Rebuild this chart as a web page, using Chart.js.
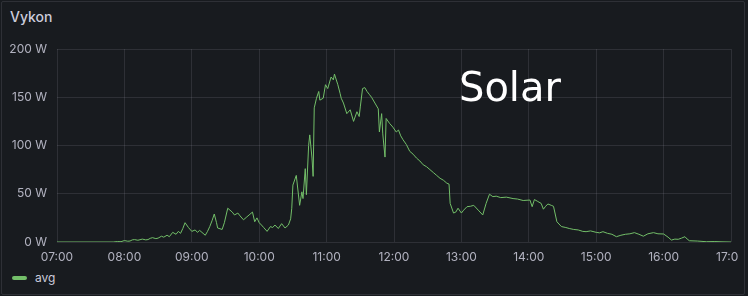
<!DOCTYPE html>
<html lang="en">
<head>
    <meta charset="UTF-8">
    <title>Vykon</title>
    <script src="https://cdn.jsdelivr.net/npm/chart.js@4.4.1/dist/chart.umd.min.js"></script>
    <style>
        html, body { margin: 0; padding: 0; background: #181b1f; }
        body { width: 748px; height: 296px; position: relative; overflow: hidden; font-family: Inter, "Noto Sans", sans-serif; }
        #panel { position: absolute; left: 1px; top: 1px; width: 742px; height: 292px; border: 1px solid rgba(204,204,220,0.12); border-radius: 2px; }
        #title { position: absolute; left: 10px; top: 8px; font-size: 14px; font-weight: 500; color: #ccccdc; }
        #wrap { position: absolute; left: 0; top: 0; width: 739px; height: 270px; overflow: hidden; }
        #solar { position: absolute; left: 459px; top: 64px; font-family: "DejaVu Sans", sans-serif; font-size: 40px; color: #ffffff; }
        #legend { position: absolute; left: 12px; top: 270px; font-size: 12px; color: #ccccdc; display: flex; align-items: center; }
        #legend span.swatch { display: inline-block; width: 15px; height: 4px; border-radius: 2px; background: #73bf69; margin-right: 8px; }
    </style>
</head>
<body>
    <div id="panel"></div>
    <div id="title">Vykon</div>
    <div id="wrap"><canvas id="myChart" width="739" height="270"></canvas></div>
    <div id="solar">Solar</div>
    <div id="legend"><span class="swatch"></span>avg</div>

    <script>
        // power readings (avg)
        const times = [
            '07:00','07:50','07:54','07:57','08:00','08:03','08:05','08:07','08:09','08:12',
            '08:16','08:19','08:21','08:23','08:25','08:28','08:30','08:33','08:35','08:38',
            '08:40','08:43','08:46','08:48','08:50','08:52','08:54','08:57','09:00','09:03',
            '09:05','09:07','09:10','09:12','09:14','09:16','09:18','09:20','09:22','09:23',
            '09:27','09:29','09:32','09:34','09:36','09:38','09:41','09:43','09:46','09:49',
            '09:51','09:54','09:56','09:58','10:00','10:02','10:04','10:07','10:10','10:12',
            '10:14','10:17','10:20','10:23','10:26','10:28','10:29','10:30','10:33','10:36',
            '10:38','10:39','10:41','10:42','10:44','10:45','10:47','10:48','10:49','10:51',
            '10:53','10:54','10:57','10:59','11:01','11:04','11:06','11:07','11:10','11:12',
            '11:13','11:15','11:18','11:21','11:24','11:27','11:29','11:30','11:32','11:34',
            '11:36','11:38','11:40','11:43','11:46','11:47','11:49','11:50','11:52','11:53',
            '11:56','11:59','12:02','12:04','12:06','12:08','12:11','12:14','12:17','12:20',
            '12:23','12:26','12:29','12:32','12:35','12:38','12:41','12:44','12:47','12:49',
            '12:50','12:53','12:55','12:57','13:00','13:02','13:05','13:08','13:11','13:15',
            '13:19','13:22','13:25','13:28','13:31','13:35','13:40','13:46','13:50','13:55',
            '14:01','14:03','14:05','14:08','14:11','14:13','14:15','14:17','14:20','14:22',
            '14:25','14:29','14:33','14:36','14:40','14:44','14:48','14:51','14:55','15:00',
            '15:03','15:06','15:10','15:14','15:18','15:22','15:26','15:30','15:34','15:38',
            '15:42','15:46','15:51','15:55','16:00','16:04','16:07','16:10','16:13','16:16',
            '16:19','16:21','16:23','16:30','16:38','16:45','16:52','17:00'
        ];
        const watts = [
            0, 0, 0.5, 0.3, 1.5, 0.8, 1, 2.2, 2.5, 1.8,
            3, 2.2, 2.5, 3.8, 4.5, 3.5, 4, 6, 5, 7,
            5.5, 10, 8, 11, 9, 14, 20, 15, 11, 12.5,
            10, 12, 9, 7, 11, 16, 22, 29, 20, 14.5,
            13, 20, 35, 33, 31, 28, 30, 27, 23, 26,
            28, 31, 21, 25, 20, 17.6, 15, 11, 16, 15,
            17.6, 14, 19, 14.5, 17.6, 24, 35, 59, 69, 38,
            52, 45, 76, 49, 100, 111, 87, 68, 139, 149,
            156, 147, 149, 163, 159, 171, 168, 174, 163, 154,
            149, 144, 133, 137, 125, 135, 130, 140, 159, 160,
            156, 153, 150, 144, 138, 114, 133, 112, 88, 128,
            123, 119, 114, 116, 110, 106, 101, 94, 91, 87,
            84, 80, 78, 75, 72, 69, 66, 64, 61, 60,
            40, 30, 31, 35, 30, 33, 36.6, 37, 38, 33,
            28, 40, 49.5, 47, 47.5, 46, 46.5, 45, 44.5, 43,
            43.5, 36.6, 44, 42, 40, 34, 37, 39.4, 38, 37,
            21, 16, 15, 14, 13, 12.5, 11, 10.7, 11.5, 10,
            9.5, 10.7, 9, 8, 5.5, 7, 8, 8.5, 9.7, 8,
            6, 8.5, 9.7, 8.5, 8.3, 5, 2, 3, 2.8, 4,
            5.5, 3, 1.3, 1, 0.3, 0.5, 0.2, 0
        ];
        const yTicks = [0, 50, 100, 150, 200];

        // minutes since 07:00, the x axis runs 07:00 .. 17:00
        function toMinutes( t ) {
            const parts = t.split(':');
            return (parseInt(parts[0]) - 7) * 60 + parseInt(parts[1]);
        }
        function pad( n ) {
            return n < 10 ? '0' + n : '' + n;
        }

        const points = times.map((t, i) => ({ x: toMinutes(t), y: watts[i] }));

        const tickColor = 'rgba(204, 204, 220, 0.85)';
        const gridColor = 'rgba(204, 204, 220, 0.12)';
        const tickFont  = { family: 'Inter', size: 12 };

        var ctx = document.getElementById('myChart').getContext('2d');
        var myChart = new Chart(ctx, {
            type: 'line',
            data: {
                datasets: [{
                    label: 'avg',
                    data: points,
                    borderColor: '#73bf69',
                    borderWidth: 1,
                    pointRadius: 0,
                    tension: 0,
                    fill: false
                }]
            },
            options: {
                responsive: false,
                animation: false,
                events: [],
                layout: { padding: { top: 49, right: 8, bottom: 0, left: 0 } },
                plugins: {
                    legend: { display: false },
                    tooltip: { enabled: false }
                },
                scales: {
                    x: {
                        type: 'linear',
                        min: 0,
                        max: 600,
                        border: { display: false },
                        grid: { color: gridColor, drawTicks: false },
                        ticks: {
                            stepSize: 60,
                            padding: 8,
                            color: tickColor,
                            font: tickFont,
                            maxRotation: 0,
                            autoSkip: false,
                            callback: v => pad(7 + v / 60) + ':00'
                        },
                        afterFit: s => { s.height = 28; s.paddingLeft = 0; s.paddingRight = 0; }
                    },
                    y: {
                        min: 0,
                        max: 200,
                        border: { display: false },
                        grid: { color: gridColor, drawTicks: false },
                        afterBuildTicks: s => { s.ticks = yTicks.map(v => ({ value: v })); },
                        ticks: {
                            padding: 10,
                            color: tickColor,
                            font: tickFont,
                            callback: v => v + ' W'
                        },
                        afterFit: s => { s.width = 57; }
                    }
                }
            }
        });
    </script>
</body>
</html>
